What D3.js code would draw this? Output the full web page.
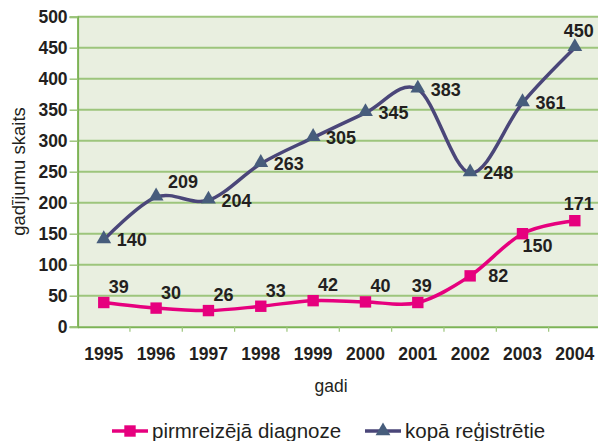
<!DOCTYPE html>
<html>
<head>
<meta charset="utf-8">
<script src="https://cdn.jsdelivr.net/npm/d3@7"></script>
<style>
  body { margin: 0; background: #ffffff; }
  svg { display: block; font-family: "Liberation Sans", Arial, sans-serif; }
  .axis text { font-size: 17.5px; font-weight: bold; fill: #231f20; }
</style>
</head>
<body>
<svg id="chart" width="598" height="441"></svg>
<script>
// chart data
let years = ['1995', '1996', '1997', '1998', '1999', '2000', '2001', '2002', '2003', '2004'];
let firstDiagnosis = [39, 30, 26, 33, 42, 40, 39, 82, 150, 171];
let totalRegistered = [140, 209, 204, 263, 305, 345, 383, 248, 361, 450];
let yTicks = [0, 50, 100, 150, 200, 250, 300, 350, 400, 450, 500];
let seriesNames = ['pirmreizējā diagnoze', 'kopā reģistrētie'];

// where each value label sits relative to its marker
let pinkLabelPos = ['ar', 'ar', 'ar', 'ar', 'ar', 'ar', 'a', 'r', 'br', 'a'];
let blueLabelPos = ['r', 'ar2', 'r', 'r', 'r', 'r', 'r', 'r', 'r', 'a'];

let pink = '#e6007e';
let lineBlue = '#4a4679';
let markerBlue = '#475d7c';
let gridColour = '#9dc57c';

let svg = d3.select('#chart');
let plotLeft = 77.6, plotRight = 601, plotTop = 16.7, plotBottom = 326.7;

let x = d3.scaleBand().domain(years).range([plotLeft, plotRight]).padding(0);
let y = d3.scaleLinear().domain([0, 500]).range([plotBottom, plotTop]);
let cx = d => x(d) + x.bandwidth() / 2;

//plot background
svg.append('rect')
    .attr('x', plotLeft)
    .attr('y', plotTop)
    .attr('width', plotRight - plotLeft)
    .attr('height', plotBottom - plotTop)
    .attr('fill', '#e9efe0');

//horizontal grid
svg.append('g').selectAll('line')
    .data(yTicks.filter(d => d > 0))
    .enter()
    .append('line')
    .attr('x1', plotLeft)
    .attr('x2', plotRight)
    .attr('y1', d => y(d))
    .attr('y2', d => y(d))
    .attr('stroke', gridColour)
    .attr('stroke-width', 2);

//y axis
let yAxis = svg.append('g')
    .attr('class', 'axis')
    .attr('transform', `translate(${plotLeft}, 0)`)
    .call(d3.axisLeft(y).tickValues(yTicks).tickSize(8).tickPadding(2));
yAxis.select('.domain').attr('stroke', '#7db356').attr('stroke-width', 2);
yAxis.selectAll('.tick line').attr('stroke', gridColour).attr('stroke-width', 1.5);

//x axis
let xAxis = svg.append('g')
    .attr('class', 'axis')
    .attr('transform', `translate(0, ${plotBottom})`)
    .call(d3.axisBottom(x).tickSize(0));
xAxis.select('.domain').attr('stroke', '#7db356').attr('stroke-width', 2);
xAxis.selectAll('.tick text').attr('y', 33).attr('dy', 0);

//category boundary ticks
svg.append('g').selectAll('line')
    .data(years.slice(1))
    .enter()
    .append('line')
    .attr('x1', d => x(d))
    .attr('x2', d => x(d))
    .attr('y1', plotBottom)
    .attr('y2', plotBottom + 5)
    .attr('stroke', gridColour)
    .attr('stroke-width', 1.2);

//axis titles
svg.append('text')
    .attr('transform', 'translate(25, 171.5) rotate(-90)')
    .attr('text-anchor', 'middle')
    .attr('font-size', 18.5)
    .attr('fill', '#231f20')
    .text('gadījumu skaits');

svg.append('text')
    .attr('x', 331)
    .attr('y', 392)
    .attr('text-anchor', 'middle')
    .attr('font-size', 17.5)
    .attr('fill', '#231f20')
    .text('gadi');

//lines
let line = d3.line()
    .x((d, i) => cx(years[i]))
    .y(d => y(d))
    .curve(d3.curveCardinal.tension(0));

svg.append('path')
    .datum(totalRegistered)
    .attr('d', line)
    .attr('fill', 'none')
    .attr('stroke', lineBlue)
    .attr('stroke-width', 3.5);

svg.append('path')
    .datum(firstDiagnosis)
    .attr('d', line)
    .attr('fill', 'none')
    .attr('stroke', pink)
    .attr('stroke-width', 3.5);

//markers
let triangle = d3.symbol().type(d3.symbolTriangle).size(95);
let square = d3.symbol().type(d3.symbolSquare).size(130);

svg.append('g').selectAll('path')
    .data(totalRegistered)
    .enter()
    .append('path')
    .attr('d', triangle)
    .attr('transform', (d, i) => `translate(${cx(years[i])}, ${y(d) - 1})`)
    .attr('fill', markerBlue);

svg.append('g').selectAll('path')
    .data(firstDiagnosis)
    .enter()
    .append('path')
    .attr('d', square)
    .attr('transform', (d, i) => `translate(${cx(years[i])}, ${y(d)})`)
    .attr('fill', pink);

//value labels
let offsets = {
    'r': [28, 0],
    'ar': [15, -16],
    'ar2': [27, -16],
    'a': [4, -17],
    'br': [15, 12]
};

function addLabels(values, positions) {
    svg.append('g').selectAll('text')
        .data(values)
        .enter()
        .append('text')
        .attr('x', (d, i) => cx(years[i]) + offsets[positions[i]][0])
        .attr('y', (d, i) => y(d) + offsets[positions[i]][1])
        .attr('dy', '0.36em')
        .attr('text-anchor', 'middle')
        .attr('font-size', 18)
        .attr('font-weight', 'bold')
        .attr('fill', '#231f20')
        .text(d => d);
}
addLabels(firstDiagnosis, pinkLabelPos);
addLabels(totalRegistered, blueLabelPos);

//legend
let legendY = 431;
let legendItems = [
    {name: seriesNames[0], colour: pink, marker: square, markerColour: pink, x0: 112},
    {name: seriesNames[1], colour: lineBlue, marker: triangle, markerColour: markerBlue, x0: 365}
];
let legend = svg.append('g').selectAll('g')
    .data(legendItems)
    .enter()
    .append('g');
legend.append('line')
    .attr('x1', d => d.x0)
    .attr('x2', d => d.x0 + 36)
    .attr('y1', legendY)
    .attr('y2', legendY)
    .attr('stroke', d => d.colour)
    .attr('stroke-width', 3.5);
legend.append('path')
    .attr('d', d => d.marker())
    .attr('transform', d => `translate(${d.x0 + 18}, ${legendY})`)
    .attr('fill', d => d.markerColour);
legend.append('text')
    .attr('x', d => d.x0 + 40)
    .attr('y', legendY + 7)
    .attr('font-size', 20.5)
    .attr('fill', '#231f20')
    .text(d => d.name);
</script>
</body>
</html>
